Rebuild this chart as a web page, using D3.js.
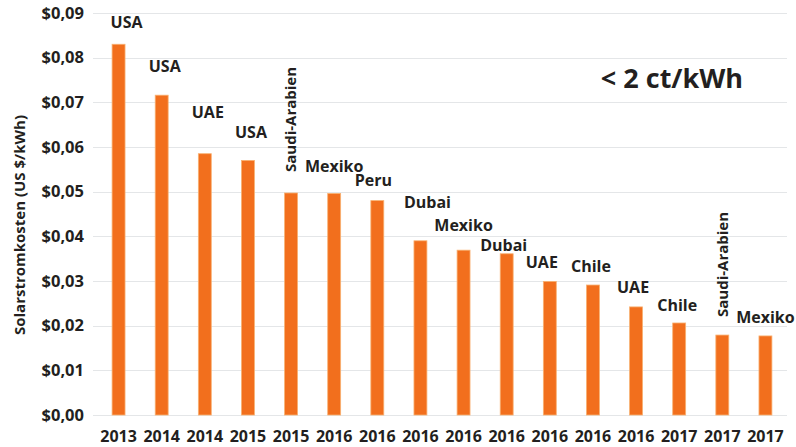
<!DOCTYPE html>
<html>
<head>
<meta charset="utf-8">
<script src="https://cdn.jsdelivr.net/npm/d3@7"></script>
<style>
	body { margin: 0; background: #fff; }
	text { font-family: 'Open Sans', sans-serif; font-weight: bold; fill: #231f20; }
</style>
</head>
<body>
<script>
var w = 796,
	h = 447;

// data
var years = ['2013', '2014', '2014', '2015', '2015', '2016', '2016', '2016',
	'2016', '2016', '2016', '2016', '2016', '2017', '2017', '2017'];
var countries = ['USA', 'USA', 'UAE', 'USA', 'Saudi-Arabien', 'Mexiko', 'Peru', 'Dubai',
	'Mexiko', 'Dubai', 'UAE', 'Chile', 'UAE', 'Chile', 'Saudi-Arabien', 'Mexiko'];
var costs = [0.083, 0.0716, 0.0585, 0.057, 0.0497, 0.0496, 0.048, 0.039,
	0.0369, 0.0361, 0.0299, 0.0291, 0.0242, 0.0206, 0.0179, 0.0177];
var yTicks = [0, 0.01, 0.02, 0.03, 0.04, 0.05, 0.06, 0.07, 0.08, 0.09];

// hand placed labels in the original, so they sit a bit off
var labelGap = [16, 23, 36, 22, 21, 21, 15, 33, 19, 3, 13, 13, 14, 12, 18, 13],
	labelShift = [8, 3, 3, 3, 0, 0, -4, 7, 0, -3, -8, -2, -3, -2, 0, 0];

var svg = d3.select('body').append('svg')
	.attr('width', w)
	.attr('height', h);

var x = d3.scaleBand()
	.domain(d3.range(years.length))
	.range([97, 787])
	.paddingInner(0.7)
	.paddingOuter(0.35);

var y = d3.scaleLinear()
	.domain([0, 0.09])
	.range([415, 13]);

function money(d) {
	return '$' + d.toFixed(2).replace('.', ',');
}

// grid
svg.append('g').selectAll('line')
	.data(yTicks)
	.enter().append('line')
	.attr('x1', 93)
	.attr('x2', 787)
	.attr('y1', function(d) { return Math.round(y(d)) + 0.5 })
	.attr('y2', function(d) { return Math.round(y(d)) + 0.5 })
	.style('stroke', '#e4e6e8')
	.style('stroke-width', 1);

// y axis, no line, just labels
var yAxis = svg.append('g')
	.attr('transform', 'translate(84,0)')
	.call(d3.axisLeft(y).tickValues(yTicks).tickFormat(money).tickSize(0).tickPadding(0));
yAxis.select('.domain').remove();
yAxis.selectAll('text')
	.style('font-size', '16.5px')
	.style('font-family', "'Open Sans', sans-serif")
	.style('fill', '#231f20');

// x axis
var xAxis = svg.append('g')
	.attr('transform', 'translate(0,431)')
	.call(d3.axisBottom(x).tickFormat(function(i) { return years[i] }).tickSize(0).tickPadding(0));
xAxis.select('.domain').remove();
xAxis.selectAll('text')
	.style('font-size', '16px')
	.style('font-family', "'Open Sans', sans-serif")
	.style('fill', '#231f20');

// bars
svg.append('g').selectAll('rect')
	.data(costs)
	.enter().append('rect')
	.attr('x', function(d, i) { return x(i) })
	.attr('y', function(d) { return y(d) })
	.attr('width', x.bandwidth())
	.attr('height', function(d) { return y(0) - y(d) })
	.style('fill', '#f26f1d')
	.style('stroke', '#f8b172')
	.style('stroke-width', 0.8);

// country labels
svg.append('g').selectAll('text')
	.data(countries)
	.enter().append('text')
	.attr('transform', function(d, i) {
		var cx = x(i) + x.bandwidth() / 2 + labelShift[i],
			ty = y(costs[i]) - labelGap[i];
		if (d.length > 8) return 'translate(' + cx + ',' + ty + ') rotate(-90)';
		return 'translate(' + cx + ',' + ty + ')';
	})
	.attr('dy', function(d) { return d.length > 8 ? '0.36em' : 0 })
	.attr('text-anchor', function(d) { return d.length > 8 ? 'start' : 'middle' })
	.style('font-size', function(d) { return d.length > 8 ? '15px' : '16px' })
	.text(function(d) { return d });

// axis title
svg.append('text')
	.attr('transform', 'translate(25,225) rotate(-90)')
	.attr('text-anchor', 'middle')
	.style('font-size', '15px')
	.text('Solarstromkosten (US $/kWh)');

// note
svg.append('text')
	.attr('x', 672)
	.attr('y', 88)
	.attr('text-anchor', 'middle')
	.style('font-size', '27px')
	.text('< 2 ct/kWh');
</script>
</body>
</html>
